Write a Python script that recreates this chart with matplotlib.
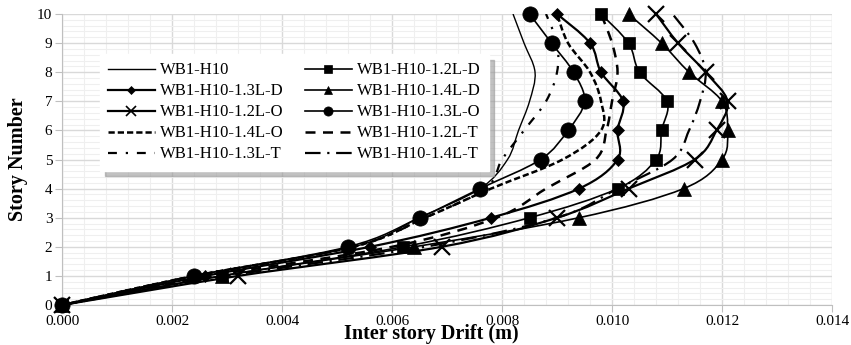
import matplotlib
matplotlib.use("Agg")
import matplotlib.pyplot as plt
import matplotlib.ticker as mticker
from matplotlib.lines import Line2D
from matplotlib.patches import PathPatch
from matplotlib.path import Path
import numpy as np

plt.rcParams["font.family"] = ["Liberation Serif", "DejaVu Serif"]

STORIES = [0, 1, 2, 3, 4, 5, 6, 7, 8, 9, 10]

# inter-story drift (m) per story
WB1_H10 = [0, 0.0024, 0.0053, 0.0065, 0.0076, 0.0081, 0.0083, 0.0085, 0.0086, 0.0084, 0.0082]
D_12 = [0, 0.0029, 0.0062, 0.0085, 0.0101, 0.0108, 0.0109, 0.0110, 0.0105, 0.0103, 0.0098]
D_13 = [0, 0.0026, 0.0056, 0.0078, 0.0094, 0.0101, 0.0101, 0.0102, 0.0098, 0.0096, 0.0090]
D_14 = [0, 0.0029, 0.0064, 0.0094, 0.0113, 0.0120, 0.0121, 0.0120, 0.0114, 0.0109, 0.0103]
O_12 = [0, 0.0032, 0.0069, 0.0090, 0.0103, 0.0115, 0.0119, 0.0121, 0.0117, 0.0112, 0.0108]
O_13 = [0, 0.0024, 0.0052, 0.0065, 0.0076, 0.0087, 0.0092, 0.0095, 0.0093, 0.0089, 0.0085]
O_14 = [0, 0.0024, 0.0053, 0.0066, 0.0078, 0.0091, 0.0098, 0.0098, 0.0096, 0.0092, 0.0090]
T_12 = [0, 0.0027, 0.0060, 0.0079, 0.0088, 0.0097, 0.0099, 0.0100, 0.0101, 0.0100, 0.0098]
T_13 = [0, 0.0024, 0.0053, 0.0066, 0.0077, 0.0080, 0.0084, 0.0088, 0.0090, 0.0090, 0.0088]
T_14 = [0, 0.0030, 0.0066, 0.0090, 0.0101, 0.0111, 0.0114, 0.0116, 0.0117, 0.0115, 0.0111]

# label, data, marker, marker size, line width, dash pattern
SERIES = [
    ("WB1-H10", WB1_H10, None, 0, 1.0, None),
    ("WB1-H10-1.2L-D", D_12, "s", 8.5, 1.2, None),
    ("WB1-H10-1.3L-D", D_13, "D", 6.5, 1.6, None),
    ("WB1-H10-1.4L-D", D_14, "^", 9.5, 1.2, None),
    ("WB1-H10-1.2L-O", O_12, "x", 11, 1.6, None),
    ("WB1-H10-1.3L-O", O_13, "o", 11, 1.2, None),
    ("WB1-H10-1.4L-O", O_14, None, 0, 1.8, (0, (2.5, 1.2))),
    ("WB1-H10-1.2L-T", T_12, None, 0, 1.8, (0, (4, 3))),
    ("WB1-H10-1.3L-T", T_13, None, 0, 1.6, (0, (4, 4, 1, 4))),
    ("WB1-H10-1.4L-T", T_14, None, 0, 1.6, (0, (7, 3, 1, 3))),
]


def smooth_path(xs, ys):
    # Excel-like smoothed line: Catmull-Rom segments as cubic Beziers
    pts = np.column_stack([xs, ys]).astype(float)
    n = len(pts)
    verts = [pts[0]]
    codes = [Path.MOVETO]
    for i in range(n - 1):
        p0 = pts[i - 1] if i > 0 else pts[i]
        p1, p2 = pts[i], pts[i + 1]
        p3 = pts[i + 2] if i + 2 < n else pts[i + 1]
        verts += [p1 + (p2 - p0) / 6, p2 - (p3 - p1) / 6, p2]
        codes += [Path.CURVE4] * 3
    return Path(verts, codes)


fig = plt.figure(figsize=(8.51, 3.45), dpi=100)
ax = fig.add_axes([0.0729, 0.1159, 0.9048, 0.8435])

handles = {}
for label, drift, marker, msize, lw, dash in SERIES:
    ls = dash if dash else "-"
    ax.add_patch(PathPatch(smooth_path(drift, STORIES), fill=False,
                           edgecolor="black", lw=lw, linestyle=ls,
                           capstyle="butt", zorder=3))
    if marker:
        ax.plot(drift, STORIES, linestyle="none", marker=marker,
                markersize=msize, color="black",
                markeredgewidth=1.6 if marker == "x" else 0.5,
                clip_on=False, zorder=4)
    handles[label] = Line2D([], [], color="black", lw=lw, linestyle=ls,
                            marker=marker, markersize=msize * 0.6,
                            markeredgewidth=1.2 if marker == "x" else 0.5)

ax.set_xlim(0, 0.014)
ax.set_ylim(0, 10)
ax.xaxis.set_major_locator(mticker.MultipleLocator(0.002))
ax.xaxis.set_minor_locator(mticker.MultipleLocator(0.0004))
ax.yaxis.set_major_locator(mticker.MultipleLocator(1))
ax.yaxis.set_minor_locator(mticker.MultipleLocator(0.2))
ax.xaxis.set_major_formatter(mticker.FormatStrFormatter("%.3f"))
ax.grid(which="major", color="#d9d9d9", lw=1.0, zorder=0)
ax.grid(which="minor", color="#efefef", lw=0.8, zorder=0)
ax.set_axisbelow(True)
for side in ("top", "right"):
    ax.spines[side].set_visible(False)
for side in ("left", "bottom"):
    ax.spines[side].set_color("#bfbfbf")
ax.tick_params(which="major", length=5, color="#bfbfbf", labelsize=11, pad=2)
ax.tick_params(which="minor", length=0)

ax.set_xlabel("Inter story Drift (m)", fontsize=14.5, fontweight="bold")
ax.xaxis.set_label_coords(0.479, -0.066)
ax.set_ylabel("Story Number", fontsize=14.5, fontweight="bold")
ax.yaxis.set_label_coords(-0.044, 0.5)

order = ["WB1-H10", "WB1-H10-1.3L-D", "WB1-H10-1.2L-O", "WB1-H10-1.4L-O", "WB1-H10-1.3L-T",
         "WB1-H10-1.2L-D", "WB1-H10-1.4L-D", "WB1-H10-1.3L-O", "WB1-H10-1.2L-T", "WB1-H10-1.4L-T"]
leg = ax.legend([handles[k] for k in order], order, ncol=2, loc="upper left",
                bbox_to_anchor=(0.049, 0.862), borderaxespad=0, fontsize=12,
                handlelength=2.8, labelspacing=0.3, columnspacing=1.3,
                handletextpad=0.3, fancybox=False, framealpha=1,
                edgecolor="white", borderpad=0.5,
                shadow={"color": "0.6", "alpha": 0.6, "ox": 4, "oy": -4})
leg.set_zorder(5)

fig.savefig("out.png", dpi=100)
